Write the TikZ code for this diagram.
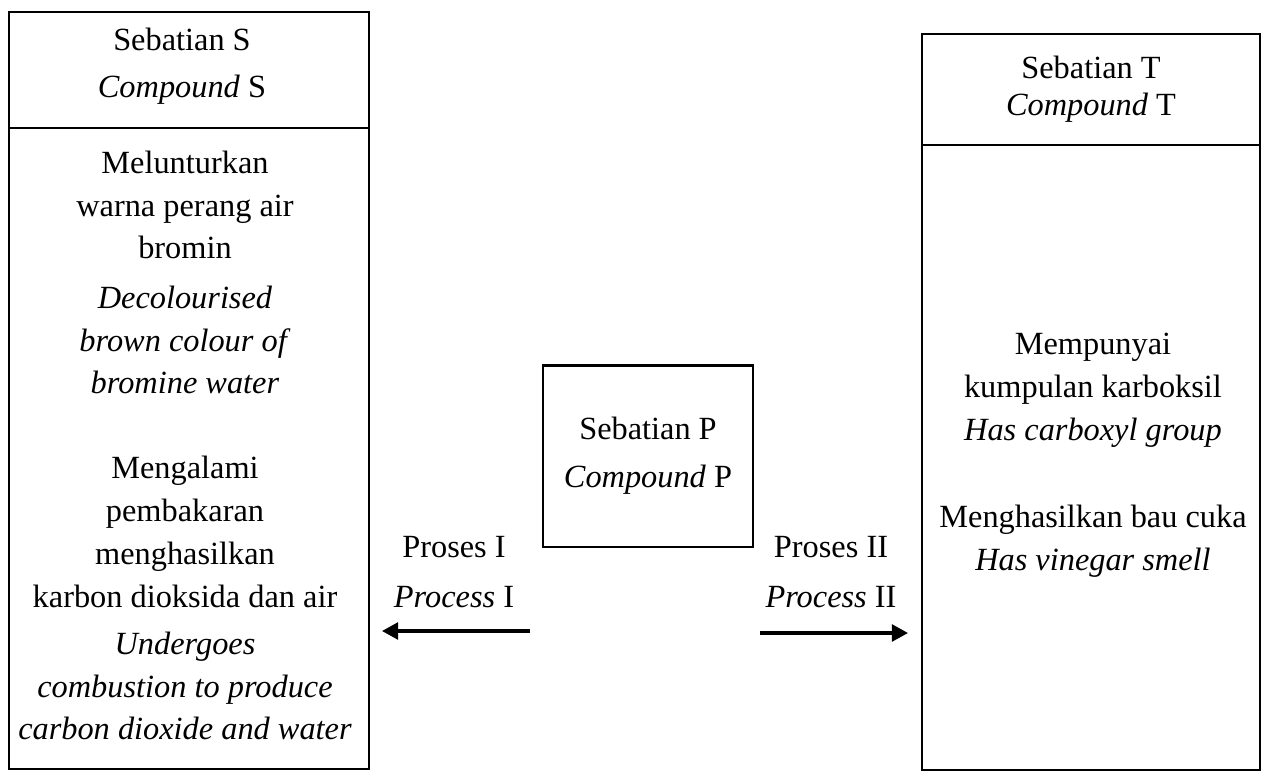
\documentclass[tikz,border=0pt]{standalone}
\usepackage{fontspec}
\setmainfont{Liberation Serif}
\usetikzlibrary{arrows.meta}
\tikzset{
  box/.style={draw,line width=0.6pt},
  txt/.style={align=center,inner sep=0pt,font=\fontsize{9.2}{12.2}\selectfont},
  proc/.style={-{Triangle[length=4.6pt,width=4.8pt]},line width=0.9pt}
}
\begin{document}
\begin{tikzpicture}[x=0.01cm,y=-0.01cm]
\useasboundingbox (0,0) rectangle (1263,772);
% compound S
\node[box,minimum width=3.6cm,minimum height=7.57cm] (S) at (189,390.5) {};
\draw[box] (S.west |- 0,128) -- (S.east |- 0,128);
\node[txt,font=\fontsize{9.2}{13.4}\selectfont] (Shead) at (182,66) {Sebatian S\\\textit{Compound} S};
\node[txt] (Sa) at (185,205) {Melunturkan\\warna perang air\\bromin};
\node[txt] (Sb) at (185,340) {\textit{Decolourised}\\\textit{brown colour of}\\\textit{bromine water}};
\node[txt] (Sc) at (185,532) {Mengalami\\pembakaran\\menghasilkan\\karbon dioksida dan air};
\node[txt] (Sd) at (185,686) {\textit{Undergoes}\\\textit{combustion to produce}\\\textit{carbon dioxide and water}};
% compound P
\node[box,txt,font=\fontsize{9.2}{13.7}\selectfont,minimum width=2.1cm,minimum height=1.81cm] (P) at (648,456) {Sebatian P\\\textit{Compound} P};
% compound T
\node[box,minimum width=3.38cm,minimum height=7.36cm] (T) at (1091,402) {};
\draw[box] (T.west |- 0,145) -- (T.east |- 0,145);
\node[txt,font=\fontsize{9.2}{10.4}\selectfont] (Thead) at (1091,89) {Sebatian T\\\textit{Compound} T};
\node[txt] (Ta) at (1093,390) {Mempunyai\\kumpulan karboksil\\\textit{Has carboxyl group}};
\node[txt] (Tb) at (1093,541) {Menghasilkan bau cuka\\\textit{Has vinegar smell}};
% processes
\node[txt,font=\fontsize{9.2}{14}\selectfont] (procI) at (454,572) {Proses I\\\textit{Process} I};
\node[txt,font=\fontsize{9.2}{14}\selectfont] (procII) at (831,572) {Proses II\\\textit{Process} II};
\coordinate (Ifrom) at (530,631);
\coordinate (Ito) at (382,631);
\coordinate (IIfrom) at (760,633);
\coordinate (IIto) at (908,633);
\draw[proc] (Ifrom) -- (Ito);
\draw[proc] (IIfrom) -- (IIto);
\end{tikzpicture}
\end{document}
